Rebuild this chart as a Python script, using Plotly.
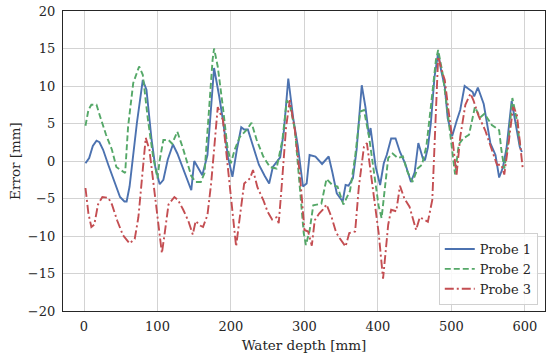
import plotly.graph_objects as go

# Probe 1 (solid blue)
depth_p1 = [2, 7, 12, 17, 21, 26, 33, 40, 49, 55, 58, 62, 72, 80, 85, 92, 97, 103, 108, 114,
            121, 127, 134, 140, 146, 150, 155, 161, 168, 177, 184, 189, 196, 202, 208, 214, 218, 223, 230, 238,
            246, 252, 257, 262, 267, 272, 278, 285, 291, 298, 303, 307, 315, 324, 333, 338, 344, 352, 356, 360,
            366, 371, 378, 383, 388, 390, 397, 403, 408, 412, 418, 424, 430, 437, 445, 450, 455, 461, 464, 468,
            472, 477, 482, 486, 491, 495, 501, 507, 512, 518, 524, 529, 531, 536, 544, 548, 553, 560, 565, 570,
            575, 582, 588, 593, 596]
error_p1 = [-0.3, 0.4, 2.0, 2.7, 2.5, 1.5, -0.5, -2.5, -4.8, -5.4, -5.4, -3.4, 5.1, 10.8, 9.5, 2.8, -0.8, -3.1, -2.5, 0.2,
            2.2, 1.0, -0.8, -2.5, -3.9, 0.0, -0.8, -1.9, 0.8, 12.4, 8.6, 5.5, 0.5, -2.1, 1.5, 4.5, 4.2, 4.2, 2.0, -0.5,
            -2.0, -3.0, -0.8, -0.2, 0.5, 4.0, 11.0, 5.5, 2.0, -3.4, -3.0, 0.8, 0.6, -0.4, 0.6, -1.5, -4.3, -5.4, -3.2, -3.3,
            -2.3, 1.5, 10.1, 7.2, 3.2, 4.4, -0.8, -3.2, -0.3, 0.8, 3.0, 3.0, 1.2, -0.3, -2.8, -1.5, 2.4, 0.4, 0.1, 1.8,
            5.0, 11.2, 14.4, 12.1, 9.9, 5.7, 3.3, 5.3, 6.8, 10.0, 9.5, 9.2, 8.6, 9.8, 7.6, 5.1, 2.4, 0.8, -2.2, -0.9,
            1.7, 8.0, 4.8, 1.9, 1.2]

# Probe 2 (dashed green)
depth_p2 = [2, 6, 10, 17, 22, 30, 38, 44, 50, 56, 60, 67, 75, 80, 87, 94, 100, 103, 108, 115,
            120, 127, 134, 140, 146, 152, 159, 164, 170, 175, 177, 182, 189, 195, 200, 205, 212, 221, 228, 235,
            244, 253, 262, 270, 276, 280, 287, 294, 299, 302, 307, 312, 323, 330, 338, 345, 353, 362, 369, 376,
            381, 388, 395, 401, 405, 409, 414, 420, 427, 434, 440, 447, 454, 460, 466, 472, 479, 482, 488, 495,
            501, 505, 510, 516, 524, 532, 539, 545, 555, 565, 568, 572, 578, 583, 589, 594]
error_p2 = [4.7, 6.8, 7.5, 7.5, 5.9, 3.5, 1.5, -0.8, -1.2, -1.6, 4.6, 10.4, 12.6, 11.5, 5.5, 0.6, -2.3, 0.1, 2.8, 2.8,
            2.3, 3.9, 1.9, 0.0, -2.0, -2.8, -2.8, -1.6, 7.2, 13.5, 15.0, 12.6, 7.2, 2.0, -0.3, 1.5, 3.2, 4.1, 5.1, 2.8,
            0.6, -0.8, -1.0, 2.8, 8.1, 7.5, 4.2, -4.3, -9.6, -11.2, -9.3, -5.9, -5.7, -2.4, -3.2, -3.4, -5.8, -4.0, 0.6, 6.6,
            6.8, 3.2, -1.6, -6.0, -7.6, -4.0, 0.4, 1.0, 0.4, 0.6, -1.4, -2.8, -1.0, -0.5, 2.0, 7.2, 13.5, 14.8, 11.7, 6.4,
            1.5, -1.8, 2.2, 3.0, 3.5, 7.2, 5.8, 6.3, 4.8, 4.1, 1.5, -1.0, 3.0, 8.4, 5.5, 1.6]

# Probe 3 (dash-dot red)
depth_p3 = [2, 6, 10, 14, 19, 25, 33, 38, 45, 53, 62, 69, 74, 78, 84, 89, 94, 100, 106, 110,
            115, 123, 128, 135, 142, 148, 152, 158, 162, 168, 173, 177, 182, 189, 195, 201, 207, 212, 218, 226,
            230, 236, 244, 250, 256, 262, 265, 269, 275, 280, 287, 294, 300, 305, 310, 314, 320, 325, 330, 337,
            343, 348, 356, 361, 369, 374, 381, 385, 390, 396, 401, 407, 411, 414, 418, 425, 430, 436, 443, 448,
            452, 457, 463, 468, 474, 478, 482, 488, 491, 496, 502, 507, 512, 519, 526, 530, 537, 546, 555, 562,
            568, 572, 578, 584, 589, 594, 597]
error_p3 = [-3.6, -7.0, -8.8, -8.5, -5.8, -4.8, -4.9, -5.8, -7.9, -9.9, -11.0, -10.4, -7.5, -3.0, 3.1, 1.5, -2.5, -7.4, -12.3, -9.5,
            -5.8, -4.8, -5.2, -6.5, -8.0, -9.8, -8.0, -8.6, -8.8, -7.2, -3.0, 1.5, 7.2, 5.5, -0.3, -6.5, -11.4, -7.5, -3.0, -2.3,
            -1.2, -3.5, -5.2, -6.8, -7.8, -7.5, -8.3, -3.4, 4.5, 8.1, 4.1, -2.0, -9.2, -9.4, -11.3, -7.9, -7.0, -6.5, -5.8, -7.5,
            -9.5, -10.3, -11.4, -9.6, -9.4, -3.5, 1.9, 2.4, -1.5, -6.0, -9.6, -15.7, -11.4, -8.5, -6.5, -6.7, -3.3, -5.0, -6.1, -7.9,
            -9.2, -7.5, -7.8, -8.1, -5.2, 4.1, 13.9, 11.7, 10.8, 6.8, 2.5, -1.9, 3.2, 7.5, 9.0, 8.1, 6.0, 4.1, 1.5, -0.5,
            -0.5, -1.8, 2.5, 7.2, 6.3, 2.0, -0.9]

x_ticks = [0, 100, 200, 300, 400, 500, 600]
y_ticks = [-20, -15, -10, -5, 0, 5, 10, 15, 20]

FONT = "DejaVu Serif"
TXT = "#262626"

fig = go.Figure()
fig.add_trace(go.Scatter(x=depth_p1, y=error_p1, mode="lines", name="Probe 1",
                         line=dict(color="#4C72B0", width=1.9)))
fig.add_trace(go.Scatter(x=depth_p2, y=error_p2, mode="lines", name="Probe 2",
                         line=dict(color="#55A868", width=1.9, dash="6px,3px")))
fig.add_trace(go.Scatter(x=depth_p3, y=error_p3, mode="lines", name="Probe 3",
                         line=dict(color="#C44E52", width=1.9, dash="9px,3px,2px,3px")))

axis_common = dict(showline=True, linecolor="#262626", linewidth=1.3, mirror=True,
                   showgrid=True, gridcolor="#d3d3d3", gridwidth=1, zeroline=False,
                   ticks="", automargin=False,
                   tickfont=dict(family=FONT, size=13, color=TXT))

fig.update_xaxes(range=[-28.6, 627.4], tickvals=x_ticks, ticklabelstandoff=3,
                 title=dict(text="Water depth [mm]", font=dict(family=FONT, size=13.5, color=TXT), standoff=7),
                 **axis_common)
fig.update_yaxes(range=[-20, 20], tickvals=y_ticks, ticklabelstandoff=4,
                 title=dict(text="Error [mm]", font=dict(family=FONT, size=13.5, color=TXT), standoff=4),
                 **axis_common)

fig.update_layout(
    width=550, height=359,
    margin=dict(l=63, r=5, t=11, b=48),
    paper_bgcolor="white", plot_bgcolor="white",
    font=dict(family=FONT, size=13, color=TXT),
    showlegend=True,
    legend=dict(x=0.985, y=0.02, xanchor="right", yanchor="bottom",
                bgcolor="rgba(255,255,255,0.85)", bordercolor="#d0d0d0", borderwidth=1,
                font=dict(family=FONT, size=13, color=TXT), tracegroupgap=0,
                itemwidth=30),
)

fig.write_html("out.html", config={"displayModeBar": False},
               post_script="document.body.style.margin='0';document.body.style.overflow='hidden';")
